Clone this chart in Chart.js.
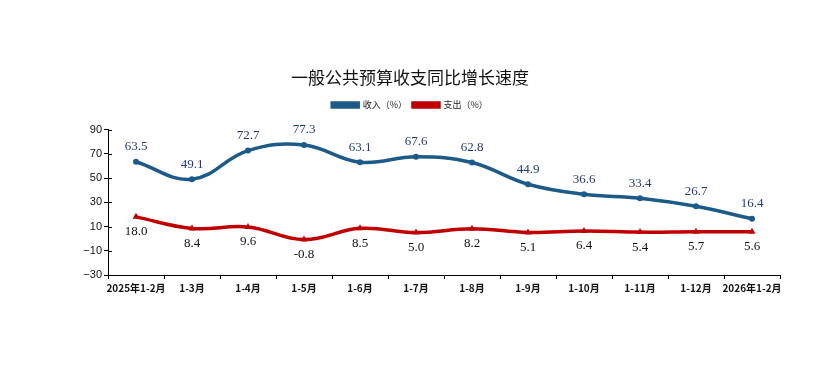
<!DOCTYPE html>
<html lang="zh-CN">
<head>
<meta charset="UTF-8">
<title>一般公共预算收支同比增长速度</title>
<script src="https://cdn.jsdelivr.net/npm/chart.js"></script>
<style>
  html, body { margin: 0; padding: 0; background: #fff; }
  #wrap { width: 835px; height: 365px; }
</style>
</head>
<body>
<div id="wrap"><canvas id="c"></canvas></div>
<script>
  // 数据
  const months = ['2025年1-2月', '1-3月', '1-4月', '1-5月', '1-6月', '1-7月', '1-8月', '1-9月', '1-10月', '1-11月', '1-12月', '2026年1-2月'];
  const income = [63.5, 49.1, 72.7, 77.3, 63.1, 67.6, 62.8, 44.9, 36.6, 33.4, 26.7, 16.4];
  const spending = [18.0, 8.4, 9.6, -0.8, 8.5, 5.0, 8.2, 5.1, 6.4, 5.4, 5.7, 5.6];
  const yTicks = [-30, -10, 10, 30, 50, 70, 90];

  const cjk = '"Noto Sans CJK SC", "Noto Sans", sans-serif';

  // 数据标签 + y轴内侧刻度
  const valueLabels = {
    id: 'valueLabels',
    afterDatasetsDraw(chart) {
      const ctx = chart.ctx;
      ctx.save();
      const ys = chart.scales.y;
      ctx.strokeStyle = '#000';
      ctx.lineWidth = 1;
      ys.ticks.forEach(t => {
        const py = Math.round(ys.getPixelForValue(t.value)) + 0.5;
        ctx.beginPath();
        ctx.moveTo(chart.chartArea.left, py);
        ctx.lineTo(chart.chartArea.left + 4, py);
        ctx.stroke();
      });
      ctx.font = '13px "Liberation Serif", "DejaVu Serif", serif';
      ctx.textAlign = 'center';
      ctx.textBaseline = 'middle';
      chart.data.datasets.forEach((ds, i) => {
        const meta = chart.getDatasetMeta(i);
        meta.data.forEach((pt, j) => {
          const above = i === 0;
          ctx.fillStyle = above ? '#1f3a78' : '#111';
          const y = above ? pt.y - 15 : pt.y + 15;
          ctx.fillText(ds.data[j].toFixed(1), pt.x, y);
        });
      });
      ctx.restore();
    }
  };

  new Chart(document.getElementById('c'), {
    type: 'line',
    data: {
      labels: months,
      datasets: [
        {
          label: '收入（%）',
          data: income,
          borderColor: '#1c5a88',
          backgroundColor: '#1c5a88',
          borderWidth: 3.5,
          tension: 0.4,
          pointStyle: 'circle',
          pointRadius: 3,
          pointBorderWidth: 0
        },
        {
          label: '支出（%）',
          data: spending,
          borderColor: '#c00000',
          backgroundColor: '#c00000',
          borderWidth: 3.5,
          tension: 0.4,
          pointStyle: 'triangle',
          pointRadius: 4,
          pointBorderWidth: 0
        }
      ]
    },
    options: {
      responsive: true,
      maintainAspectRatio: false,
      animation: false,
      layout: { padding: { left: 40, right: 55, top: 0, bottom: 60 } },
      plugins: {
        title: {
          display: true,
          text: '一般公共预算收支同比增长速度',
          color: '#111',
          font: { family: cjk, size: 17, weight: 'normal' },
          padding: { top: 67, bottom: 7 }
        },
        legend: {
          display: true,
          labels: {
            color: '#222',
            font: { family: cjk, size: 9 },
            boxWidth: 26,
            boxHeight: 4,
            padding: 6
          }
        },
        // 图例与绘图区之间的空隙
        subtitle: {
          display: true,
          text: '',
          weight: 500,
          font: { size: 1 },
          padding: { top: 0, bottom: 9 }
        },
        tooltip: { enabled: false }
      },
      scales: {
        x: {
          offset: true,
          grid: {
            display: true,
            drawOnChartArea: false,
            offset: true,
            color: '#000',
            tickLength: 4,
            tickColor: '#000'
          },
          border: { color: '#000', width: 1 },
          ticks: {
            color: '#111',
            font: { family: cjk, size: 10, weight: 'bold' },
            maxRotation: 0,
            autoSkip: false,
            padding: 3
          },
          afterFit(scale) { scale.height = 30; }
        },
        y: {
          min: -30,
          max: 90,
          afterBuildTicks(scale) { scale.ticks = yTicks.map(v => ({ value: v })); },
          grid: {
            display: true,
            drawOnChartArea: false,
            color: '#000',
            tickLength: 4,
            tickColor: '#000'
          },
          border: { color: '#000', width: 1 },
          ticks: {
            color: '#111',
            font: { family: '"Liberation Sans", Arial, sans-serif', size: 11 },
            padding: 2,
            callback: v => String(v).replace('-', '\u2212')
          },
          afterFit(scale) { scale.width = 68; }
        }
      }
    },
    plugins: [valueLabels]
  });
</script>
</body>
</html>
